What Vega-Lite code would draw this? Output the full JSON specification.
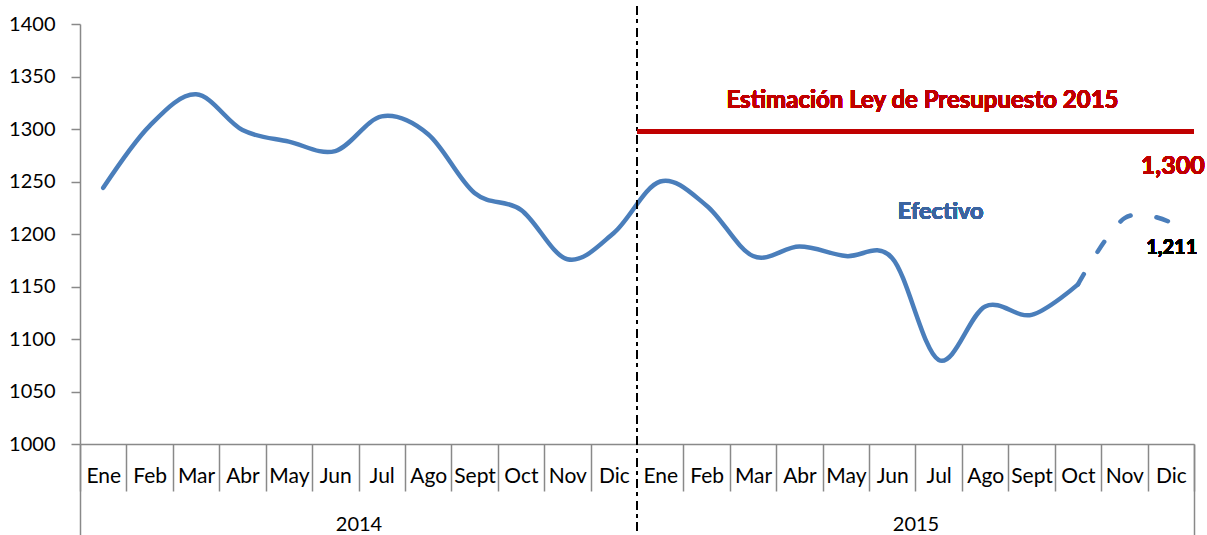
{
  "$schema": "https://vega.github.io/schema/vega-lite/v6.json",
  "width": 1114,
  "height": 420,
  "autosize": {"type": "none"},
  "padding": {"left": 80, "top": 24, "right": 13, "bottom": 91},
  "config": {"view": {"stroke": null}, "font": "Lato"},
  "datasets": {
    "efectivo": [
      {"key": "Ene 2014", "v": 1244}, {"key": "Feb 2014", "v": 1303}, {"key": "Mar 2014", "v": 1333},
      {"key": "Abr 2014", "v": 1299}, {"key": "May 2014", "v": 1288}, {"key": "Jun 2014", "v": 1279},
      {"key": "Jul 2014", "v": 1312}, {"key": "Ago 2014", "v": 1295}, {"key": "Sept 2014", "v": 1239},
      {"key": "Oct 2014", "v": 1223}, {"key": "Nov 2014", "v": 1176}, {"key": "Dic 2014", "v": 1201},
      {"key": "Ene 2015", "v": 1250}, {"key": "Feb 2015", "v": 1227}, {"key": "Mar 2015", "v": 1179},
      {"key": "Abr 2015", "v": 1188}, {"key": "May 2015", "v": 1179}, {"key": "Jun 2015", "v": 1177},
      {"key": "Jul 2015", "v": 1080}, {"key": "Ago 2015", "v": 1131}, {"key": "Sept 2015", "v": 1123},
      {"key": "Oct 2015", "v": 1152}
    ],
    "proyeccion": [
      {"key": "Oct 2015", "v": 1152}, {"key": "Nov 2015", "v": 1215}, {"key": "Dic 2015", "v": 1211}
    ],
    "years": [{"year": "2014"}, {"year": "2015"}]
  },
  "layer": [
    {
      "data": {"name": "years"},
      "mark": {"type": "bar", "opacity": 0},
      "encoding": {
        "x": {
          "field": "year", "type": "nominal",
          "scale": {"type": "band", "paddingInner": 0, "paddingOuter": 0},
          "axis": {
            "orient": "bottom", "title": null, "domain": false, "labelAngle": 0,
            "tickBand": "extent", "tickSize": 91, "tickWidth": 1.5, "tickColor": "#898989",
            "tickOpacity": {"condition": {"test": "datum.value === '2014'", "value": 0}, "value": 1},
            "labelPadding": -11, "labelBaseline": "middle", "labelFontSize": 20, "labelColor": "#000000", "labelFont": "Lato"
          }
        }
      }
    },
    {
      "data": {"name": "efectivo"},
      "encoding": {
        "x": {
          "field": "key", "type": "nominal",
          "scale": {
            "type": "band", "paddingInner": 0, "paddingOuter": 0,
            "domain": ["Ene 2014","Feb 2014","Mar 2014","Abr 2014","May 2014","Jun 2014","Jul 2014","Ago 2014","Sept 2014","Oct 2014","Nov 2014","Dic 2014","Ene 2015","Feb 2015","Mar 2015","Abr 2015","May 2015","Jun 2015","Jul 2015","Ago 2015","Sept 2015","Oct 2015","Nov 2015","Dic 2015"]
          },
          "axis": {
            "orient": "bottom", "title": null, "labelAngle": 0,
            "labelExpr": "split(datum.label, ' ')[0]",
            "domainColor": "#898989", "domainWidth": 1.5,
            "tickBand": "extent", "tickSize": 47, "tickWidth": 1.5, "tickColor": "#898989",
            "tickOpacity": {"condition": {"test": "datum.value === 'Dic 2014'", "value": 0}, "value": 1},
            "labelPadding": -14.5, "labelBaseline": "middle", "labelFontSize": 21, "labelColor": "#000000", "labelFont": "Lato"
          }
        },
        "y": {
          "field": "v", "type": "quantitative",
          "scale": {"domain": [1000, 1400], "nice": false, "zero": false},
          "axis": {
            "title": null, "values": [1000,1050,1100,1150,1200,1250,1300,1350,1400], "format": "d",
            "grid": false, "domainColor": "#898989", "domainWidth": 1.5,
            "tickColor": "#898989", "tickWidth": 1.5, "tickSize": 9, "labelPadding": 16,
            "labelFontSize": 20, "labelColor": "#000000", "labelFont": "Lato"
          }
        }
      },
      "layer": [
        {
          "mark": {"type": "line", "interpolate": "cardinal", "color": "#4a7ebb", "strokeWidth": 4.5, "strokeCap": "round"}
        },
        {
          "data": {"name": "proyeccion"},
          "mark": {"type": "line", "interpolate": "cardinal", "color": "#4a7ebb", "strokeWidth": 4.5, "strokeCap": "round", "strokeDash": [12, 26]}
        },
        {
          "mark": {"type": "rule", "color": "#000000", "strokeWidth": 2, "strokeDash": [8, 5, 3, 5.5]},
          "encoding": {
            "x": {"datum": "Ene 2015", "bandPosition": 0},
            "y": {"datum": 1416.5},
            "y2": {"datum": 913.5}
          }
        },
        {
          "mark": {"type": "rule", "color": "#c00000", "strokeWidth": 4},
          "encoding": {
            "x": {"datum": "Ene 2015", "bandPosition": 0},
            "x2": {"datum": "Dic 2015", "bandPosition": 1},
            "y": {"datum": 1297.5}
          }
        },
        {
          "mark": {"type": "text", "text": "Estimación Ley de Presupuesto 2015", "color": "#c00000", "fontWeight": "bold", "fontSize": 24, "font": "Lato", "align": "center", "baseline": "middle", "dx": 7},
          "encoding": {"x": {"datum": "Jul 2015", "bandPosition": 0}, "y": {"datum": 1327}}
        },
        {
          "mark": {"type": "text", "text": "Efectivo", "color": "#3b64a0", "fontWeight": "bold", "fontSize": 23.5, "font": "Lato", "align": "center", "baseline": "middle", "dx": 2},
          "encoding": {"x": {"datum": "Jul 2015"}, "y": {"datum": 1221}}
        },
        {
          "mark": {"type": "text", "text": "1,300", "color": "#c00000", "fontWeight": "bold", "fontSize": 25, "font": "Lato", "align": "center", "baseline": "middle", "dx": 2},
          "encoding": {"x": {"datum": "Dic 2015"}, "y": {"datum": 1265}}
        },
        {
          "mark": {"type": "text", "text": "1,211", "color": "#000000", "fontWeight": "bold", "fontSize": 20, "font": "Lato", "align": "center", "baseline": "middle", "dx": 1},
          "encoding": {"x": {"datum": "Dic 2015"}, "y": {"datum": 1187}}
        }
      ]
    }
  ],
  "resolve": {"scale": {"x": "independent"}, "axis": {"x": "independent"}}
}
